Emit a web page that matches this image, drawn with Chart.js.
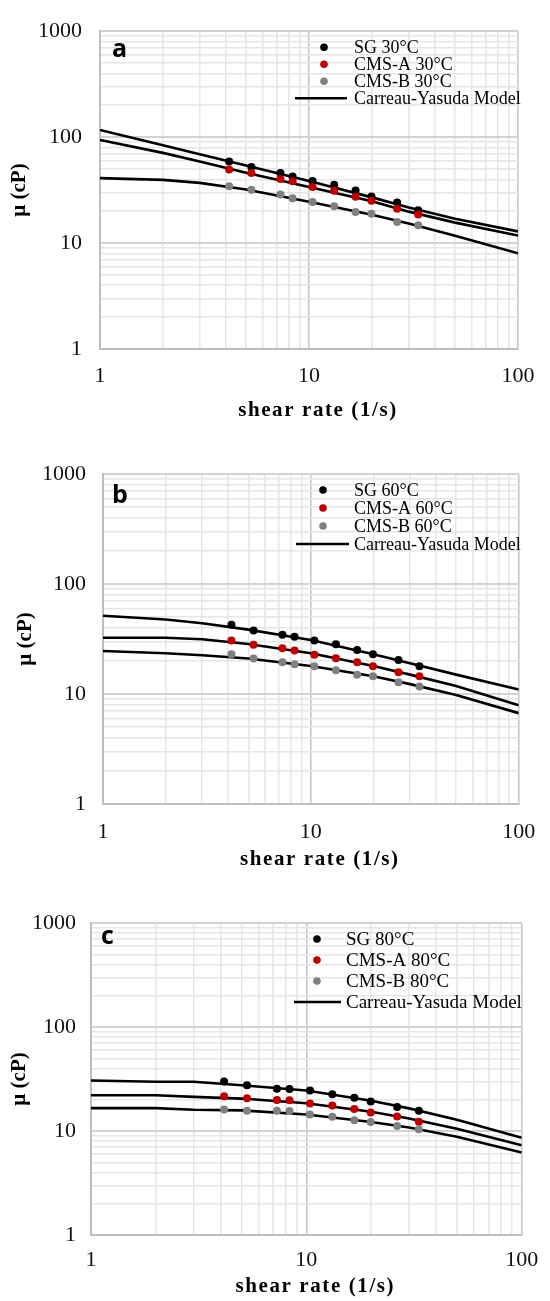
<!DOCTYPE html>
<html>
<head>
<meta charset="utf-8">
<script src="https://cdn.jsdelivr.net/npm/chart.js@4/dist/chart.umd.min.js"></script>
<style>
  html, body { margin: 0; padding: 0; background: #fff; }
  #wrap { position: relative; width: 550px; height: 1301px; }
  canvas { position: absolute; left: 0; }
</style>
</head>
<body>
<div id="wrap">
  <canvas id="panelA" width="550" height="430" style="top:0px"></canvas>
  <canvas id="panelB" width="550" height="450" style="top:430px"></canvas>
  <canvas id="panelC" width="550" height="421" style="top:880px"></canvas>
</div>
<script>
// measured shear rates (1/s), same for every sample
const shearRate = [4.15, 5.3, 7.3, 8.35, 10.4, 13.2, 16.7, 19.9, 26.4, 33.3];
const modelShear = [1, 2, 3, 5, 10, 20, 30, 50, 100];

// tick labels (log axes)
const xTickLabels = ['1', '10', '100'];
const yTickLabels = ['1', '10', '100', '1000'];

// 30 °C
const sg30 = [58.8, 52.3, 45.8, 42.5, 38.6, 35.5, 31.3, 27.5, 24.1, 20.4];
const cmsA30 = [49.4, 45.8, 40.2, 38.3, 33.8, 31.1, 27.3, 25.1, 21.1, 18.6];
const cmsB30 = [34.3, 31.8, 28.8, 26.5, 24.4, 22.3, 19.6, 18.9, 15.8, 14.7];
const sg30Model = [117, 84, 69, 54, 38.5, 27, 21.7, 17, 12.9];
const cmsA30Model = [94, 71, 59, 46, 33.8, 24.8, 19.8, 15.6, 11.8];
const cmsB30Model = [41, 39.5, 37, 32, 24.5, 18.5, 15.3, 11.7, 8.0];

// 60 °C
const sg60 = [42.7, 37.7, 34.6, 33.2, 30.7, 28.3, 25.1, 23.0, 20.4, 17.9];
const cmsA60 = [30.6, 28.1, 26.0, 24.9, 22.8, 21.1, 19.4, 17.9, 15.8, 14.5];
const cmsB60 = [23.0, 21.0, 19.4, 18.6, 17.9, 16.4, 15.0, 14.5, 12.8, 11.7];
const sg60Model = [51.5, 47.5, 44, 38.5, 31, 23, 19, 15, 11.0];
const cmsA60Model = [32.5, 32.5, 31.5, 28.5, 23.5, 18, 15, 11.8, 7.9];
const cmsB60Model = [24.6, 23.5, 22.5, 21, 18, 14.5, 12.3, 9.8, 6.7];

// 80 °C
const sg80 = [29.9, 27.6, 25.5, 25.3, 24.5, 22.6, 20.9, 19.2, 17.0, 15.7];
const cmsA80 = [21.6, 20.7, 19.9, 19.8, 18.4, 17.6, 16.3, 15.1, 13.8, 12.3];
const cmsB80 = [16.1, 15.7, 15.7, 15.6, 14.4, 13.7, 12.7, 12.2, 11.2, 10.4];
const sg80Model = [30.6, 29.8, 29.8, 27.5, 24.5, 19.5, 16.5, 12.8, 8.6];
const cmsA80Model = [22.1, 22.1, 21.3, 20.5, 18.5, 15.3, 13.2, 10.5, 7.3];
const cmsB80Model = [16.6, 16.6, 16.0, 15.8, 14.4, 12.2, 10.8, 8.8, 6.2];

const names30 = ['SG 30°C', 'CMS-A 30°C', 'CMS-B 30°C'];
const names60 = ['SG 60°C', 'CMS-A 60°C', 'CMS-B 60°C'];
const names80 = ['SG 80°C', 'CMS-A 80°C', 'CMS-B 80°C'];
const modelName = 'Carreau-Yasuda Model';
const xTitle = 'shear rate (1/s)';
const yTitle = 'µ (cP)';

const pointColors = ['#000000', '#c00000', '#808080'];
const SERIF = '"Liberation Serif", "Times New Roman", serif';

function toPoints(xs, ys) {
  return xs.map((x, i) => ({ x: x, y: ys[i] }));
}

// 1,2,...,9,10,20,...  up to the last label
function logTicks(labels) {
  const dec = labels.map(Number);
  const out = [];
  for (let i = 0; i < dec.length - 1; i++) {
    for (let k = 1; k < 10; k++) out.push({ value: dec[i] * k });
  }
  out.push({ value: dec[dec.length - 1] });
  return out;
}

function isDecade(v) {
  const l = Math.log10(v);
  return Math.abs(l - Math.round(l)) < 1e-9;
}

// legend, panel letter and x title (letter-spaced) drawn on top
const panelDecor = {
  id: 'panelDecor',
  afterDraw(chart, args, o) {
    const ctx = chart.ctx;
    const ca = chart.chartArea;
    ctx.save();
    // panel letter
    ctx.fillStyle = '#000';
    ctx.font = 'bold 25px "Open Sans", "Noto Sans", sans-serif';
    ctx.textAlign = 'left';
    ctx.textBaseline = 'alphabetic';
    ctx.fillText(o.letter, ca.left + o.letterX, ca.top + o.letterY);

    // legend
    ctx.font = o.legendFont + 'px ' + SERIF;
    ctx.textBaseline = 'middle';
    ctx.fillStyle = '#000';
    o.names.forEach((n, i) => {
      const y = ca.top + o.rowY + i * o.rowGap;
      ctx.beginPath();
      ctx.fillStyle = pointColors[i];
      ctx.arc(ca.left + o.markX, y, 3.8, 0, Math.PI * 2);
      ctx.fill();
      ctx.fillStyle = '#000';
      ctx.fillText(n, ca.left + o.textX, y + 1);
    });
    const ly = ca.top + o.rowY + 3 * o.rowGap;
    ctx.strokeStyle = '#000';
    ctx.lineWidth = 2.5;
    ctx.beginPath();
    ctx.moveTo(ca.left + o.lineX1, ly);
    ctx.lineTo(ca.left + o.lineX2, ly);
    ctx.stroke();
    ctx.fillText(modelName, ca.left + o.textX, ly + 1);

    // x axis title
    ctx.font = 'bold 21px ' + SERIF;
    ctx.letterSpacing = '1.6px';
    ctx.textAlign = 'center';
    ctx.fillText(xTitle, (ca.left + ca.right) / 2 + 9, o.xTitleY);
    ctx.restore();
  }
};

function makePanel(id, lay, series, models, names) {
  const datasets = [];
  // points first so they sit on top of the model lines
  [2, 1, 0].forEach(i => {
    datasets.push({
      label: names[i],
      data: toPoints(shearRate, series[i]),
      showLine: false,
      pointRadius: 4,
      pointBorderWidth: 0,
      pointBackgroundColor: pointColors[i],
      borderColor: pointColors[i]
    });
  });
  models.forEach(m => {
    datasets.push({
      label: modelName,
      data: toPoints(modelShear, m),
      showLine: true,
      pointRadius: 0,
      borderColor: '#000',
      borderWidth: 2.6,
      tension: 0
    });
  });

  const canvas = document.getElementById(id);
  const H = canvas.height;

  return new Chart(canvas, {
    type: 'scatter',
    data: { datasets: datasets },
    plugins: [panelDecor],
    options: {
      responsive: false,
      animation: false,
      events: [],
      devicePixelRatio: window.devicePixelRatio || 1,
      layout: { padding: { top: lay.T, right: 550 - lay.R, left: 0, bottom: 0 } },
      scales: {
        x: {
          type: 'logarithmic',
          min: 1,
          max: 100,
          afterBuildTicks: s => { s.ticks = logTicks(xTickLabels); },
          afterFit: s => { s.height = H - lay.B; },
          ticks: {
            autoSkip: false,
            maxRotation: 0,
            padding: lay.xPad,
            color: '#111',
            font: { family: SERIF, size: 22 },
            callback: v => xTickLabels.includes(String(v)) ? String(v) : ''
          },
          grid: {
            drawTicks: false,
            color: c => isDecade(c.tick.value) ? '#c8c8c8' : '#e6e6e6',
            lineWidth: c => isDecade(c.tick.value) ? 1.6 : 1.5
          },
          border: { color: '#bfbfbf', width: 2 }
        },
        y: {
          type: 'logarithmic',
          min: 1,
          max: 1000,
          afterBuildTicks: s => { s.ticks = logTicks(yTickLabels); },
          afterFit: s => { s.width = lay.L; },
          ticks: {
            autoSkip: false,
            padding: lay.yPad,
            color: '#111',
            font: { family: SERIF, size: 22 },
            callback: v => yTickLabels.includes(String(v)) ? String(v) : ''
          },
          grid: {
            drawTicks: false,
            color: c => isDecade(c.tick.value) ? '#d2d2d2' : '#e6e6e6',
            lineWidth: c => isDecade(c.tick.value) ? 2 : 1.5
          },
          border: { color: '#bfbfbf', width: 2 },
          title: {
            display: true,
            text: yTitle,
            color: '#000',
            font: { family: SERIF, size: 21, weight: 'bold' },
            padding: { top: lay.yTitlePad, bottom: 0 }
          }
        }
      },
      plugins: {
        legend: { display: false },
        tooltip: { enabled: false },
        panelDecor: lay.decor
      }
    }
  });
}

makePanel('panelA',
  { T: 17, B: 349, L: 100, R: 518, xPad: 13.8, yPad: 18, yTitlePad: 7.4,
    decor: { letter: 'a', letterX: 12, letterY: 26, names: names30, legendFont: 18,
             markX: 224, textX: 254, rowY: 16, rowGap: 17, lineX1: 195, lineX2: 247, xTitleY: 411 } },
  [sg30, cmsA30, cmsB30], [sg30Model, cmsA30Model, cmsB30Model], names30);

makePanel('panelB',
  { T: 44, B: 374, L: 103, R: 524, xPad: 14.8, yPad: 17, yTitlePad: 13.4,
    decor: { letter: 'b', letterX: 9, letterY: 29, names: names60, legendFont: 18,
             markX: 220, textX: 251, rowY: 16, rowGap: 18, lineX1: 193, lineX2: 246, xTitleY: 430 } },
  [sg60, cmsA60, cmsB60], [sg60Model, cmsA60Model, cmsB60Model], names60);

makePanel('panelC',
  { T: 43, B: 355, L: 91, R: 523, xPad: 11.8, yPad: 15, yTitlePad: 7.4,
    decor: { letter: 'c', letterX: 10, letterY: 21, names: names80, legendFont: 19,
             markX: 226, textX: 255, rowY: 16, rowGap: 21, lineX1: 203, lineX2: 250, xTitleY: 407 } },
  [sg80, cmsA80, cmsB80], [sg80Model, cmsA80Model, cmsB80Model], names80);
</script>
</body>
</html>
